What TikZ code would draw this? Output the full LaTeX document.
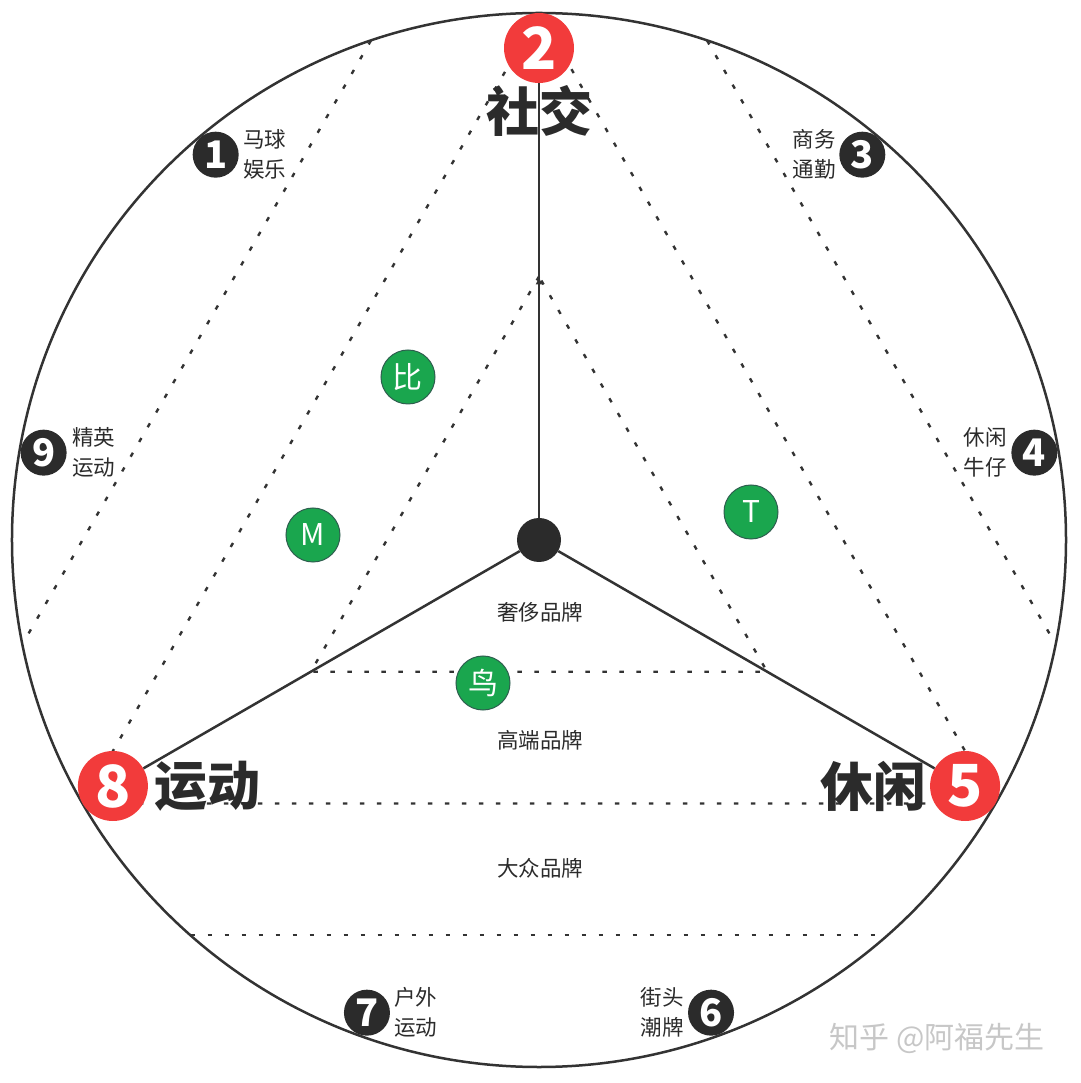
\documentclass[tikz,border=0pt]{standalone}
\usepackage{fontspec}
\setmainfont{Noto Sans CJK SC}
\usetikzlibrary{positioning,arrows.meta}

\definecolor{markred}{HTML}{F23B3B}
\definecolor{markdark}{HTML}{2B2B2B}
\definecolor{brandgreen}{HTML}{1AA64E}
\definecolor{brandedge}{HTML}{2E5E4E}
\definecolor{linegray}{HTML}{333333}

\begin{document}
\begin{tikzpicture}[
			x=1pt,y=1pt,
			>=Latex,
			axis/.style={draw=linegray,line width=2.5pt},
			dotline/.style={draw=linegray,line width=2.4pt,dash pattern=on 4.5pt off 12.5pt},
			redmark/.style={circle,fill=markred,text=white,minimum size=70pt,inner sep=0pt,font=\fontsize{58}{58}\selectfont\bfseries},
			darkmark/.style={circle,fill=markdark,text=white,minimum size=46pt,inner sep=0pt,font=\fontsize{38}{38}\selectfont\bfseries},
			brand/.style={circle,fill=brandgreen,draw=brandedge,line width=1pt,text=white,minimum size=54pt,inner sep=0pt,font=\fontsize{30}{30}\selectfont},
			tag/.style={align=center,text=markdark,font=\fontsize{21.5}{30}\selectfont,inner sep=0pt},
			axislabel/.style={text=markdark,font=\fontsize{53}{53}\selectfont\bfseries,inner sep=0pt},
			tier/.style={text=markdark,font=\fontsize{21.5}{21.5}\selectfont}
			]
			
			\useasboundingbox (-539,-543) rectangle (541,540);
			\def\rad{527}
			
			%%%%%%%%%%%%%%%%%%%%%%%%%%%%%%%%%%%%%%%%%%%%%%%%%%%%%%%%%%%%
			% Guide Points
			%%%%%%%%%%%%%%%%%%%%%%%%%%%%%%%%%%%%%%%%%%%%%%%%%%%%%%%%%%%%
			
			\coordinate (vtop) at (90:\rad);
			\coordinate (vleft) at (210:\rad);
			\coordinate (vright) at (330:\rad);
			
			\coordinate (itop) at (90:\rad/2);
			\coordinate (ileft) at (210:\rad/2);
			\coordinate (iright) at (330:\rad/2);
			
			\coordinate (cla) at (108.6:\rad);
			\coordinate (clb) at (191.4:\rad);
			\coordinate (cra) at (71.4:\rad);
			\coordinate (crb) at (-11.4:\rad);
			\coordinate (cba) at (228.6:\rad);
			\coordinate (cbb) at (311.4:\rad);
			
			%%%%%%%%%%%%%%%%%%%%%%%%%%%%%%%%%%%%%%%%%%%%%%%%%%%%%%%%%%%%
			% Dotted Guides
			%%%%%%%%%%%%%%%%%%%%%%%%%%%%%%%%%%%%%%%%%%%%%%%%%%%%%%%%%%%%
			
			\draw[dotline] (itop) -- (ileft) -- (iright) -- cycle;
			
			\draw[dotline] (vtop) -- (vleft) -- (vright) -- cycle;
			
			\draw[dotline] (cla) -- (clb);
			
			\draw[dotline] (cra) -- (crb);
			
			\draw[dotline] (cba) -- (cbb);
			
			% Outer ring
			
			\draw[axis] (0,0) circle (\rad);
			
			%%%%%%%%%%%%%%%%%%%%%%%%%%%%%%%%%%%%%%%%%%%%%%%%%%%%%%%%%%%%
			% Main Axes
			%%%%%%%%%%%%%%%%%%%%%%%%%%%%%%%%%%%%%%%%%%%%%%%%%%%%%%%%%%%%
			
			\node[circle,fill=markdark,minimum size=44pt,inner sep=0pt] (hub) at (0,0) {};
			
			\node[redmark] (m2) at (90:492) {2};
			
			\node[redmark] (m5) at (-30:492) {5};
			
			\node[redmark] (m8) at (210:492) {8};
			
			\node[axislabel,below=2pt of m2] (social) {社交};
			
			\node[axislabel,left=3pt of m5] (leisure) {休闲};
			
			\node[axislabel,right=6pt of m8] (sport) {运动};
			
			\draw[axis] (hub) -- (m2);
			
			\draw[axis,-{Latex[length=8pt,width=7pt]}] (hub) -- (itop);
			
			\draw[axis] (hub) -- (m5);
			
			\draw[axis] (hub) -- (m8);
			
			%%%%%%%%%%%%%%%%%%%%%%%%%%%%%%%%%%%%%%%%%%%%%%%%%%%%%%%%%%%%
			% Ring Markers
			%%%%%%%%%%%%%%%%%%%%%%%%%%%%%%%%%%%%%%%%%%%%%%%%%%%%%%%%%%%%
			
			\foreach \n/\a in {1/130,3/50,4/10,6/-70,7/250,9/170}
			\node[darkmark] (m\n) at (\a:503) {\n};
			
			\node[tag,right=4pt of m1] (polo) {马球\\娱乐};
			
			\node[tag,left=3pt of m3] (business) {商务\\通勤};
			
			\node[tag,left=4pt of m4] (denim) {休闲\\牛仔};
			
			\node[tag,left=4pt of m6] (street) {街头\\潮牌};
			
			\node[tag,right=4pt of m7] (outdoor) {户外\\运动};
			
			\node[tag,right=5pt of m9] (elite) {精英\\运动};
			
			%%%%%%%%%%%%%%%%%%%%%%%%%%%%%%%%%%%%%%%%%%%%%%%%%%%%%%%%%%%%
			% Brand Tiers
			%%%%%%%%%%%%%%%%%%%%%%%%%%%%%%%%%%%%%%%%%%%%%%%%%%%%%%%%%%%%
			
			\node[tier] (luxury) at (1,-72) {奢侈品牌};
			
			\node[tier] (premium) at (1,-200) {高端品牌};
			
			\node[tier] (mass) at (1,-328) {大众品牌};
			
			% Brands
			
			\node[brand] (bi) at (-131,163) {比};
			
			\node[brand] (em) at (-226,5) {M};
			
			\node[brand] (tee) at (212,28) {T};
			
			\node[brand] (niao) at (-56,-143) {鸟};
			
			% Watermark
			
			\node[text=black!22,font=\fontsize{30}{30}\selectfont] (credit) at (398,-498) {知乎 @阿福先生};
			
		\end{tikzpicture}
\end{document}
